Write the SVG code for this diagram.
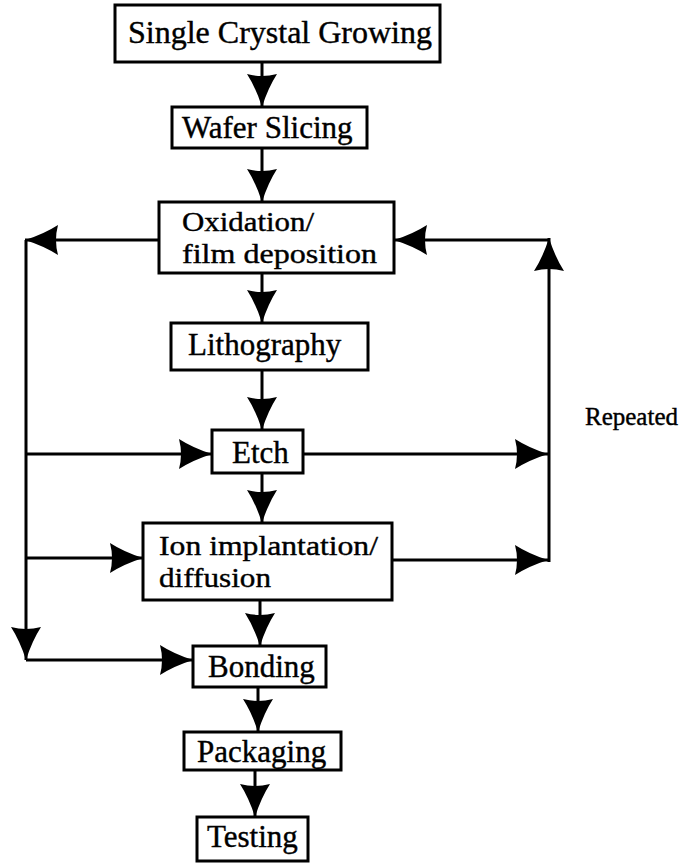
<svg xmlns="http://www.w3.org/2000/svg" width="683" height="863" viewBox="0 0 683 863">
  <style>
    .box { fill: #ffffff; stroke: #000000; stroke-width: 3; }
    .lbl { font-family: "Liberation Serif", "Times New Roman", serif; font-size: 31px; fill: #000000; stroke: #000000; stroke-width: 0.4; }
    .two { font-size: 28px; }
    .wire { fill: none; stroke: #000000; stroke-width: 3; marker-end: url(#head); }
  </style>
  <defs>
    <marker id="head" markerUnits="userSpaceOnUse" markerWidth="34" markerHeight="30" refX="33" refY="15" orient="auto" overflow="visible">
      <path d="M0,0 Q14,9 33,15 Q14,21 0,30 Q4,15 0,0 Z" fill="#000000"/>
    </marker>
  </defs>

  <rect width="683" height="863" fill="#ffffff"/>

  <!-- connectors -->
  <g id="connectors">
    <!-- main flow -->
    <path class="wire" d="M262,62 L262,107"/>
    <path class="wire" d="M262,148 L262,202"/>
    <path class="wire" d="M262,273 L262,323"/>
    <path class="wire" d="M262,370 L262,430"/>
    <path class="wire" d="M262,473 L262,523"/>
    <path class="wire" d="M260,600 L260,646"/>
    <path class="wire" d="M258,687 L258,732"/>
    <path class="wire" d="M255,770 L255,817"/>
    <!-- left bypass -->
    <path class="wire" d="M159,240 L25,240"/>
    <path class="wire" d="M26,240 L26,660"/>
    <path class="wire" d="M26,454 L212,454"/>
    <path class="wire" d="M26,558 L143,558"/>
    <path class="wire" d="M26,660 L193,660"/>
    <!-- right repeat loop -->
    <path class="wire" d="M303,454 L548,454"/>
    <path class="wire" d="M392,560 L548,560"/>
    <path class="wire" d="M549,562 L549,238"/>
    <path class="wire" d="M549,240 L394,240"/>
  </g>

  <g id="crystal">
    <rect class="box" x="115" y="5" width="325" height="57"/>
    <text class="lbl" x="128" y="43" style="font-size:32px">Single Crystal Growing</text>
  </g>
  <g id="slicing">
    <rect class="box" x="172" y="107" width="195" height="41"/>
    <text class="lbl" x="182" y="138">Wafer Slicing</text>
  </g>
  <g id="oxidation">
    <rect class="box" x="159" y="202" width="235" height="71"/>
    <text class="lbl two" x="182" y="231" textLength="132" lengthAdjust="spacingAndGlyphs">Oxidation/</text>
    <text class="lbl two" x="182" y="263" textLength="195" lengthAdjust="spacingAndGlyphs">film deposition</text>
  </g>
  <g id="lithography">
    <rect class="box" x="171" y="323" width="197" height="47"/>
    <text class="lbl" x="188" y="355">Lithography</text>
  </g>
  <g id="etch">
    <rect class="box" x="212" y="430" width="91" height="43"/>
    <text class="lbl" x="232" y="463">Etch</text>
  </g>
  <g id="implant">
    <rect class="box" x="143" y="523" width="249" height="77"/>
    <text class="lbl two" x="159" y="555" textLength="219" lengthAdjust="spacingAndGlyphs">Ion implantation/</text>
    <text class="lbl two" x="159" y="587" textLength="112" lengthAdjust="spacingAndGlyphs">diffusion</text>
  </g>
  <g id="bonding">
    <rect class="box" x="193" y="646" width="133" height="41"/>
    <text class="lbl" x="208" y="677">Bonding</text>
  </g>
  <g id="packaging">
    <rect class="box" x="184" y="732" width="157" height="38"/>
    <text class="lbl" x="197" y="762">Packaging</text>
  </g>
  <g id="testing">
    <rect class="box" x="197" y="817" width="111" height="44"/>
    <text class="lbl" x="207" y="847">Testing</text>
  </g>

  <g id="repeat-label">
    <text class="lbl" x="585" y="425" style="font-size:25px">Repeated</text>
  </g>
</svg>
